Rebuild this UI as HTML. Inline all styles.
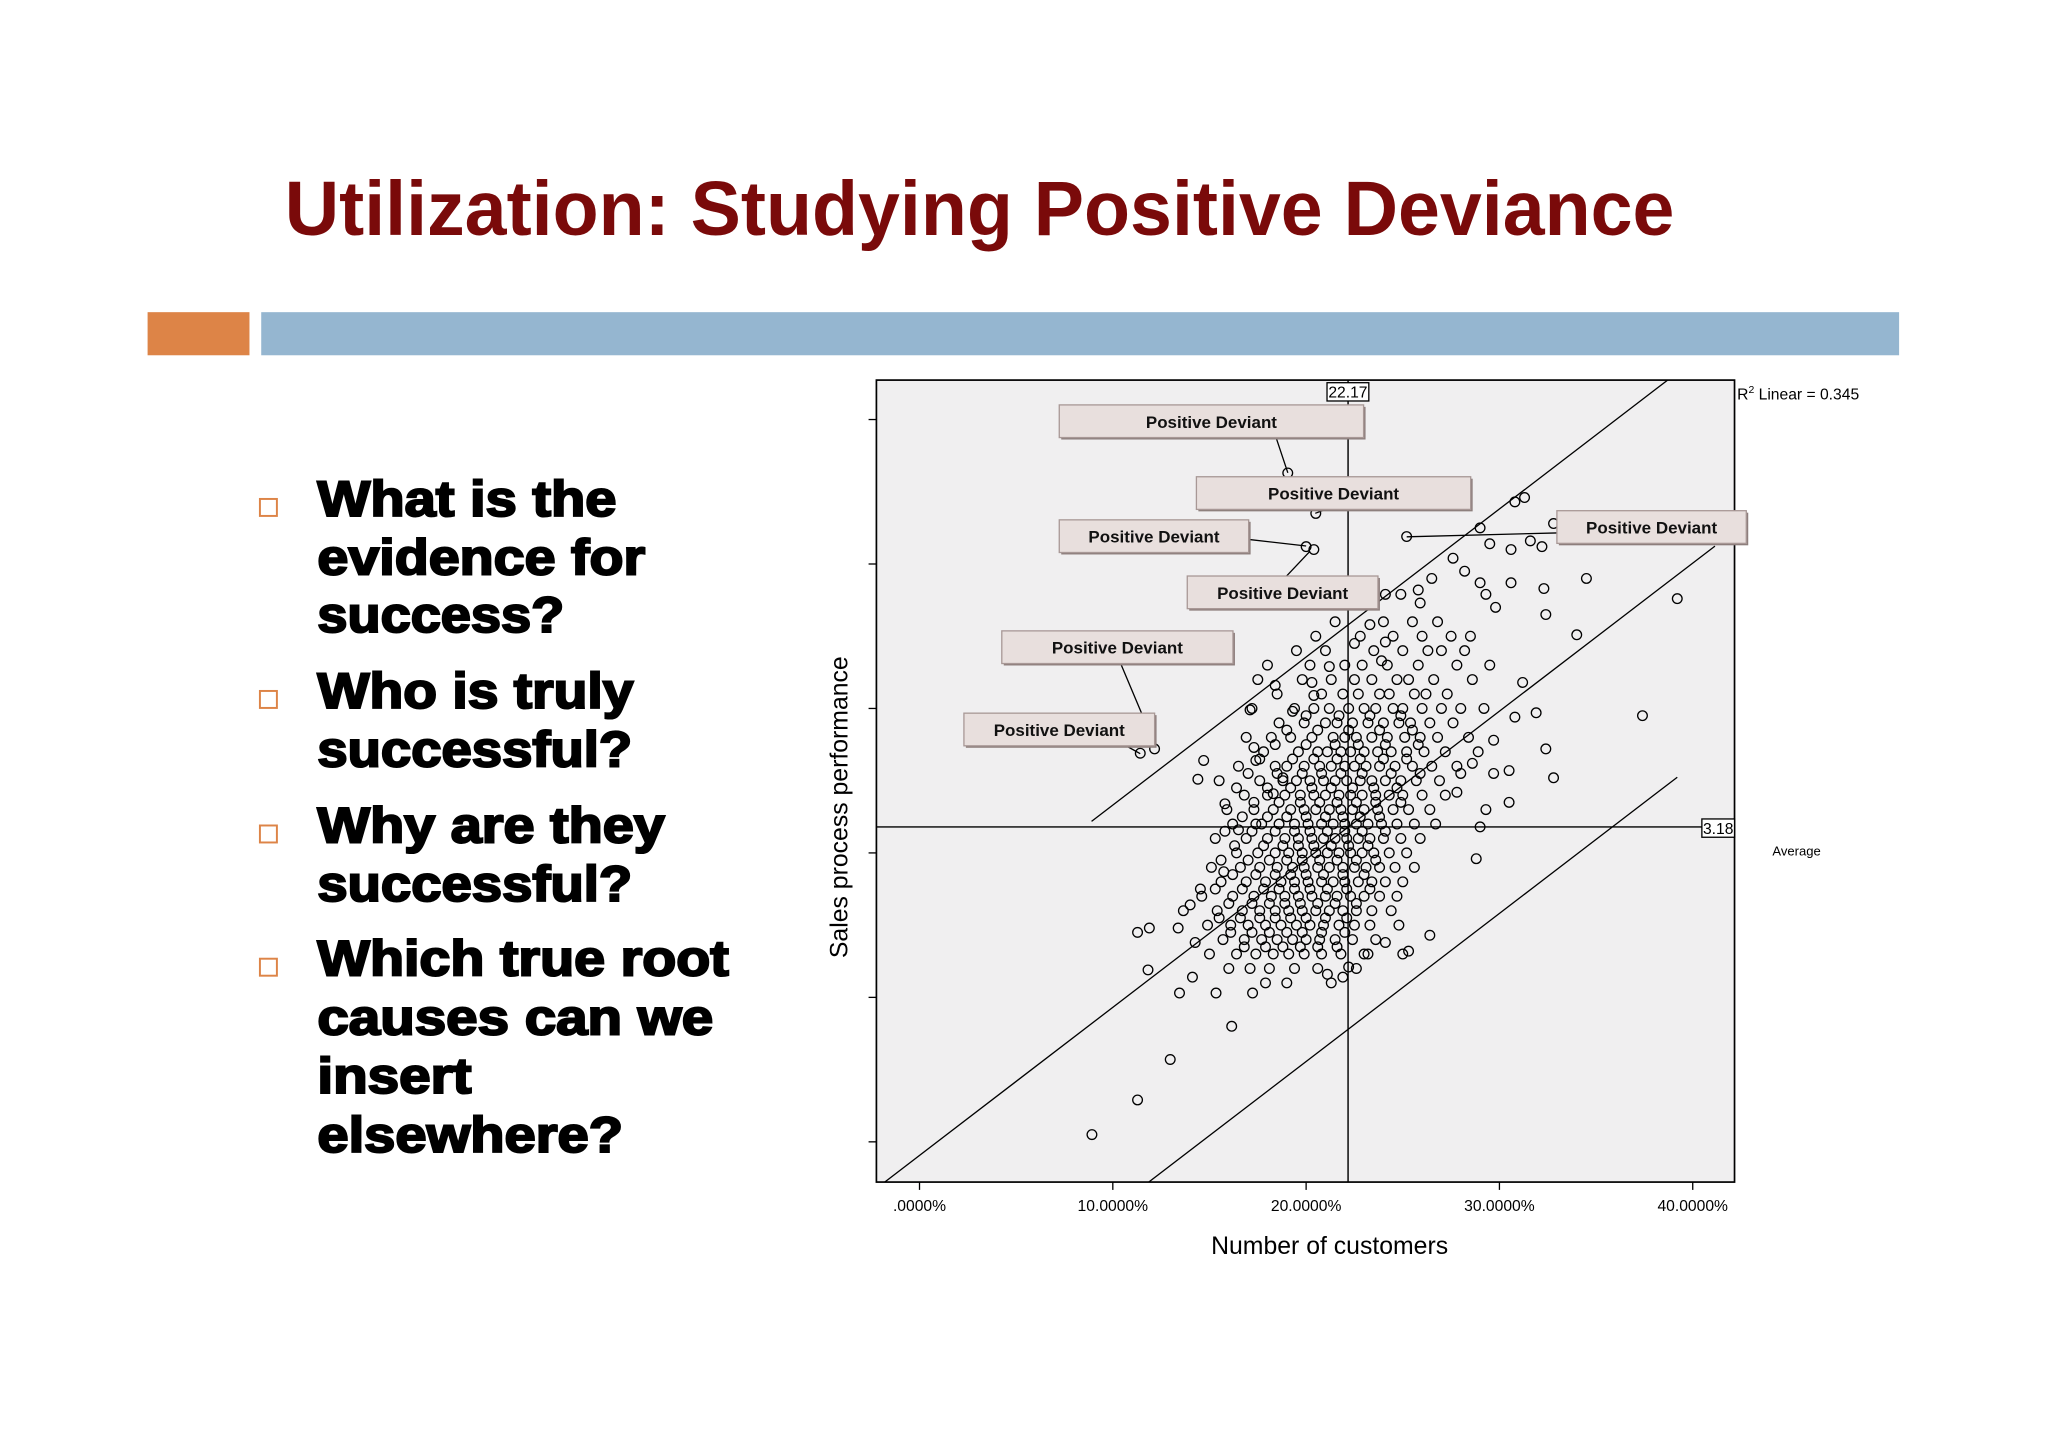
<!DOCTYPE html>
<html><head><meta charset="utf-8"><style>
html,body{margin:0;padding:0;background:#fff;}
svg{display:block;}
</style></head><body>
<svg id="slide" width="2048" height="1448" viewBox="0 0 1568 1108.6" preserveAspectRatio="none" xmlns="http://www.w3.org/2000/svg" font-family="Liberation Sans, Arial, sans-serif">
<rect x="0" y="0" width="1568" height="1109" fill="#ffffff"/>
<text x="218" y="180" font-size="59" font-weight="bold" fill="#7a0a0a" textLength="1064" lengthAdjust="spacingAndGlyphs">Utilization: Studying Positive Deviance</text>
<rect x="113" y="239" width="78" height="33" fill="#dd8447"/>
<rect x="200" y="239" width="1254" height="33" fill="#95b6d0"/>
<g id="bullets"></g>
<g id="chart"></g>
</svg>
<script>
const NS='http://www.w3.org/2000/svg';
function mk(tag,attrs,parent){const e=document.createElementNS(NS,tag);for(const k in attrs)e.setAttribute(k,attrs[k]);parent.appendChild(e);return e;}

// ---- bullets ----
const bulletLines=[
 [["What is the",395,229],["evidence for",440,251],["success?",484,189]],
 [["Who is truly",542,242],["successful?",587,241]],
 [["Why are they",645,266],["successful?",690,241]],
 [["Which true root",747,315],["causes can we",792,303],["insert",837,118],["elsewhere?",882,234]]
];
const bg=document.getElementById('bullets');
bulletLines.forEach((grp,i)=>{
  const sq=mk('rect',{x:199,y:grp[0][1]-13,width:13,height:13,fill:'none',stroke:'#dd8447','stroke-width':1.5},bg);
  
  
  grp.forEach(l=>{
    const t=mk('text',{x:243,y:l[1],'font-size':38,'font-weight':'bold',fill:'#000',stroke:'#000','stroke-width':1.6,textLength:l[2],lengthAdjust:'spacingAndGlyphs'},bg);
    t.textContent=l[0];
    
    
  });
});

// ---- chart data ----
const xTicks=[0,10,20,30,40];
const xTickLabels=[".0000%","10.0000%","20.0000%","30.0000%","40.0000%"];
const yTicks=[1,2,3,4,5,6];
const meanX=22.17, meanY=3.18;
const fitIntercept=0.906, fitSlope=0.1025, bandOffset=1.4;
const bandY=[4.6,4.5,4.4,4.3,4.2,4.1,4.0,3.9,3.8,3.7,3.6,3.5,3.4,3.3,3.2,3.1,3.0,2.9,2.8,2.7,2.6,2.5,2.4,2.3,2.2,2.1];
const bandX=[
 [21.5,24.0,25.5,26.8],
 [20.5,22.8,24.5,26.0,27.5,28.5],
 [19.5,21.0,23.5,25.0,26.3,27.0,28.2],
 [18.0,20.2,22.0,22.9,24.2,25.8,27.8,29.5],
 [17.5,19.8,21.3,22.5,23.4,24.7,25.3,26.6,28.6],
 [18.5,20.8,21.9,22.7,23.8,24.3,25.6,26.2,27.3],
 [17.2,19.4,20.4,21.2,22.2,23.0,23.6,24.5,25.0,26.0,27.0,28.0,29.2],
 [18.6,19.9,21.0,21.6,22.4,23.2,24.0,24.8,25.4,26.4,27.6],
 [16.9,18.2,19.2,20.3,21.4,22.0,22.6,23.4,24.2,25.1,25.9,26.8,28.4],
 [17.8,19.6,20.6,21.1,21.8,22.3,23.0,23.7,24.4,25.2,26.1,27.2,28.9],
 [16.5,18.4,19.0,19.9,20.7,21.3,22.0,22.5,23.1,23.8,24.6,25.5,26.5,27.8],
 [15.5,17.6,18.8,19.5,20.2,20.9,21.5,22.1,22.8,23.4,24.1,24.9,25.7,26.9],
 [16.8,18.0,18.9,19.7,20.4,21.0,21.7,22.3,22.9,23.6,24.3,25.0,26.0,27.2],
 [15.9,17.3,18.3,19.2,19.9,20.5,21.2,21.8,22.4,23.0,23.7,24.5,25.3,26.4],
 [16.2,17.7,18.6,19.4,20.1,20.8,21.4,22.0,22.6,23.2,23.9,24.7,25.6,26.7],
 [15.3,16.9,18.0,18.9,19.6,20.3,20.9,21.5,22.1,22.7,23.3,24.0,24.9,25.9],
 [16.4,17.5,18.4,19.1,19.8,20.5,21.1,21.7,22.3,22.9,23.5,24.3,25.2],
 [15.1,16.6,17.6,18.5,19.3,19.9,20.6,21.2,21.9,22.5,23.1,23.8,24.6,25.6],
 [15.6,16.9,17.9,18.7,19.4,20.1,20.8,21.4,22.0,22.7,23.4,24.1,25.0],
 [14.6,16.2,17.3,18.2,18.9,19.6,20.3,21.0,21.6,22.3,23.0,23.8,24.7],
 [15.4,16.7,17.6,18.4,19.1,19.8,20.5,21.2,21.9,22.6,23.4,24.4],
 [14.9,16.1,17.0,17.9,18.7,19.5,20.2,20.9,21.7,22.5,23.3,24.8],
 [15.7,16.8,17.7,18.5,19.3,20.0,20.7,21.5,22.4,23.6],
 [15.0,16.4,17.4,18.3,19.1,19.9,20.8,21.8,23.2,25.0],
 [16.0,17.1,18.1,19.4,20.6,22.6],
 [17.9,19.0,21.3]
];
// denser core, offset rows
const coreY=[3.95,3.85,3.75,3.65,3.55,3.45,3.35,3.25,3.15,3.05,2.95,2.85,2.75,2.65,2.55,2.45,2.35];
const coreX=[
 [20.0,21.7,23.3,24.9],
 [19.0,20.6,22.2,23.8,25.5],
 [18.4,20.0,21.5,22.7,24.1,25.8],
 [17.6,19.3,20.4,21.6,22.8,24.0,25.2],
 [17.0,18.5,19.8,20.8,21.8,22.9,24.4,25.9],
 [16.4,18.0,19.2,20.3,21.3,22.4,23.5,24.7],
 [17.3,18.6,19.7,20.7,21.6,22.6,23.6,24.9],
 [16.7,18.0,19.0,20.0,21.0,21.9,22.8,23.8],
 [15.8,17.2,18.4,19.4,20.2,21.1,22.0,22.9,24.1],
 [16.3,17.8,18.8,19.6,20.4,21.3,22.2,23.2],
 [15.6,17.0,18.1,19.0,19.8,20.7,21.6,22.6,23.6],
 [16.2,17.4,18.4,19.2,20.0,20.9,21.9,23.0],
 [15.3,16.7,17.8,18.6,19.4,20.2,21.1,22.1,23.3],
 [16.0,17.2,18.1,18.9,19.7,20.6,21.5,22.6],
 [15.5,16.6,17.6,18.4,19.2,20.0,21.0,22.1],
 [16.1,17.2,18.1,19.0,19.8,20.8,22.0],
 [16.8,17.9,18.8,19.7,20.6,21.6]
];
const outlierX=[8.92,11.28,12.97,16.15,11.82,13.45,14.12,15.34,17.23,11.28,11.89,13.38,13.65,14.0,14.53,15.74,14.26,21.9,21.1,22.2,23.0,24.1,25.3,26.4,28.8,
 39.2,37.4,34.5,34.0,32.8,32.4,32.4,32.3,31.9,31.2,30.5,30.5,30.8,29.7,29.7,30.8,31.3,29.0,32.8,25.2,29.5,30.6,31.6,32.2,27.6,26.5,28.2,29.0,30.6,29.3,29.8,25.8,25.9,24.9,24.1,
 19.05,20.5,20.0,20.4,23.3,22.5,24.1,23.9,21.2,20.4,20.3,18.4,17.1,19.3,12.16,11.42,14.7,14.4,15.8,17.3,17.4,18.8,18.3,17.4,16.5,27.8,28.6,29.3,29.0,28.0];
const outlierY=[1.05,1.29,1.57,1.80,2.19,2.03,2.14,2.03,2.03,2.45,2.48,2.48,2.60,2.64,2.75,2.87,2.38,2.14,2.16,2.21,2.30,2.38,2.32,2.43,2.96,
 4.76,3.95,4.90,4.51,3.52,3.72,4.65,4.83,3.97,4.18,3.35,3.57,3.94,3.55,3.78,5.43,5.46,5.25,5.28,5.19,5.14,5.10,5.16,5.12,5.04,4.90,4.95,4.87,4.87,4.79,4.70,4.82,4.73,4.79,4.79,
 5.63,5.35,5.12,5.10,4.58,4.45,4.46,4.33,4.29,4.09,4.18,4.16,3.99,3.98,3.72,3.69,3.64,3.51,3.34,3.73,3.64,3.52,3.41,3.20,3.16,3.42,3.62,3.30,3.18,3.55];

// ---- axes ----
const X0=704,XPX=14.8,Y3=653,YPX=110.6;
const plot={l:671,t:291,r:1328,b:905};
function sx(v){return X0+v*XPX;}
function sy(v){return Y3-(v-3)*YPX;}
function sxInv(p){return (p-X0)/XPX;}
const ch=document.getElementById('chart');
const frame=mk('rect',{x:plot.l,y:plot.t,width:plot.r-plot.l,height:plot.b-plot.t,fill:'#f0eff0',stroke:'#000','stroke-width':1.3},ch);


const defs=mk('defs',{},ch);
const cp=mk('clipPath',{id:'clipPlot'},defs);
mk('rect',{x:plot.l,y:plot.t,width:plot.r-plot.l,height:plot.b-plot.t},cp);

yTicks.forEach(v=>{
  const t=mk('line',{x1:plot.l-6,x2:plot.l,y1:sy(v),y2:sy(v),stroke:'#000','stroke-width':1},ch);
  
  
});
xTicks.forEach((v,i)=>{
  const t=mk('line',{x1:sx(v),x2:sx(v),y1:plot.b,y2:plot.b+6,stroke:'#000','stroke-width':1},ch);
  
  
  const l=mk('text',{x:sx(v),y:927,'font-size':12,'text-anchor':'middle',fill:'#000'},ch);
  l.textContent=xTickLabels[i];
  
  
});
const xt=mk('text',{x:1018,y:960,'font-size':19,'text-anchor':'middle',fill:'#000'},ch);
xt.textContent='Number of customers';


const yt=mk('text',{x:0,y:0,'font-size':19,'text-anchor':'middle',fill:'#000',transform:'translate(649,618) rotate(-90)'},ch);
yt.textContent='Sales process performance';



// ---- reference lines ----
const g=mk('g',{'clip-path':'url(#clipPlot)'},ch);
const vl=mk('line',{x1:sx(meanX),x2:sx(meanX),y1:plot.t,y2:plot.b,stroke:'#000','stroke-width':1.1},g);


const hl=mk('line',{x1:plot.l,x2:plot.r,y1:sy(meanY),y2:sy(meanY),stroke:'#000','stroke-width':1.1},g);


const xa=sxInv(plot.l);
[[0,'fit-line',xa,41.15],[bandOffset,'upper-band-line',8.9,45],[-bandOffset,'lower-band-line',xa,39.2]].forEach(o=>{
  const ln=mk('line',{x1:sx(o[2]),y1:sy(fitIntercept+o[0]+fitSlope*o[2]),x2:sx(o[3]),y2:sy(fitIntercept+o[0]+fitSlope*o[3]),stroke:'#000','stroke-width':1},g);
  
  
});

// ---- points ----
const pg=mk('g',{fill:'none',stroke:'#000','stroke-width':1},ch);
function pt(xv,yv){
  const c=mk('circle',{cx:sx(xv),cy:sy(yv),r:3.7},pg);
  
  
}
bandY.forEach((yv,i)=>{bandX[i].forEach(xv=>pt(xv,yv));});
coreY.forEach((yv,i)=>{coreX[i].forEach(xv=>pt(xv,yv));});
outlierX.forEach((xv,i)=>pt(xv,outlierY[i]));

// ---- value boxes ----
function valBox(x,y,w,txt,name){
  const r=mk('rect',{x:x,y:y,width:w,height:14,fill:'#fff',stroke:'#000','stroke-width':1},ch);
  
  
  const t=mk('text',{x:x+w/2,y:y+11.5,'font-size':12,'text-anchor':'middle',fill:'#000'},ch);
  t.textContent=txt;
  
  
}
valBox(1016,293,32,'22.17','mean-x-label');
valBox(1303,627,25,'3.18','mean-y-label');
const r2=mk('text',{x:1330,y:306,'font-size':12,fill:'#000'},ch);
r2.innerHTML='R<tspan dy="-5" font-size="8">2</tspan><tspan dy="5"> Linear = 0.345</tspan>';


const av=mk('text',{x:1357,y:655,'font-size':10,fill:'#000'},ch);
av.textContent='Average';



// ---- callouts ----
const callouts=[
 [811,310,233,977,335,986,362],
 [916,365,210,1015,390,1007,393],
 [811,398,145,956,413,1000,418],
 [909,441,146,985,441,1003,422],
 [767,483,177,858,508,874,546],
 [738,546,146,864,572,873,577],
 [1192,391,145,1192,408,1077,411]
];
callouts.forEach(c=>{
  const ln=mk('line',{x1:c[3],y1:c[4],x2:c[5],y2:c[6],stroke:'#000','stroke-width':1},ch);
  
  
  mk('rect',{x:c[0]+1.5,y:c[1]+1.5,width:c[2],height:25,fill:'#8d7e7c'},ch);
  const r=mk('rect',{x:c[0],y:c[1],width:c[2],height:25,fill:'#e8dfdd',stroke:'#a89896','stroke-width':1},ch);
  
  
  const t=mk('text',{x:c[0]+c[2]/2,y:c[1]+17.5,'font-size':13,'font-weight':'bold','text-anchor':'middle',fill:'#111'},ch);
  t.textContent='Positive Deviant';
  
  
});
</script>
</body></html>
